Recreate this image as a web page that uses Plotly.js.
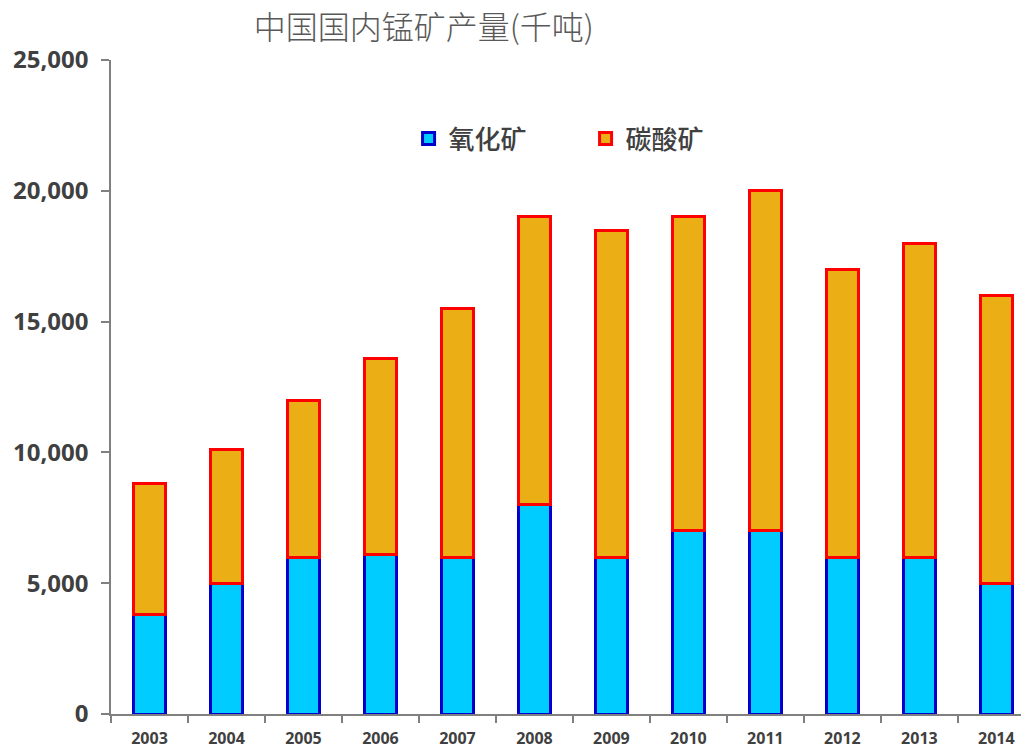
<!DOCTYPE html>
<html><head><meta charset="utf-8">
<script src="https://cdn.plot.ly/plotly-3.0.1.min.js"></script>
<style>body{margin:0;background:#fff}#c{width:1021px;height:750px}</style>
</head><body><div id="c"></div>
<script>
const years = ['2003','2004','2005','2006','2007','2008','2009','2010','2011','2012','2013','2014'];
const oxide = [3800,5000,6000,6100,6000,8000,6000,7000,7000,6000,6000,5000];
const carbonate = [5030,5100,6000,7500,9500,11000,12500,12000,13000,11000,12000,11000];
const seriesNames = ['氧化矿','碳酸矿'];

const traces = [
  {type:'bar', x:years, y:oxide, name:seriesNames[0], width:0.42,
   marker:{color:'#00CCFF', line:{color:'#0000CC', width:3}}},
  {type:'bar', x:years, y:carbonate, name:seriesNames[1], width:0.42,
   marker:{color:'#EBAE14', line:{color:'#FF0000', width:3}}}
];
const layout = {
  width:1021, height:750, barmode:'stack',
  paper_bgcolor:'#fff', plot_bgcolor:'#fff',
  margin:{l:111, r:0, t:60, b:36},
  title:{text:'中国国内锰矿产量(千吨)', x:0.415, xanchor:'center', y:0.963, yanchor:'middle',
    font:{family:'Noto Sans CJK SC', size:32, color:'#595959', weight:300}},
  showlegend:true,
  legend:{orientation:'h', x:0.327, y:0.88, xanchor:'left', yanchor:'middle', traceorder:'normal',
    entrywidth:132, entrywidthmode:'pixels',
    font:{family:'Noto Sans CJK SC', size:26, color:'#404040', weight:500}, itemwidth:30, bgcolor:'rgba(0,0,0,0)'},
  xaxis:{type:'category', range:[-0.5, 11.32], showline:true, linecolor:'#808080', linewidth:1.5,
    ticks:'outside', tickson:'boundaries', ticklen:7, tickcolor:'#808080', tickwidth:1.5, ticklabelstandoff:9,
    tickfont:{family:'Open Sans', size:16, color:'#404040', weight:'bold'}, showgrid:false, zeroline:false},
  yaxis:{range:[0,25000], dtick:5000, tickformat:',d', showline:true, linecolor:'#808080', linewidth:1.5,
    ticks:'outside', ticklen:8, tickcolor:'#808080', tickwidth:1.5, showgrid:false, zeroline:false, ticklabelstandoff:8,
    tickfont:{family:'Open Sans', size:24, color:'#404040', weight:'bold'}}
};
Plotly.newPlot('c', traces, layout, {displayModeBar:false});
</script></body></html>
